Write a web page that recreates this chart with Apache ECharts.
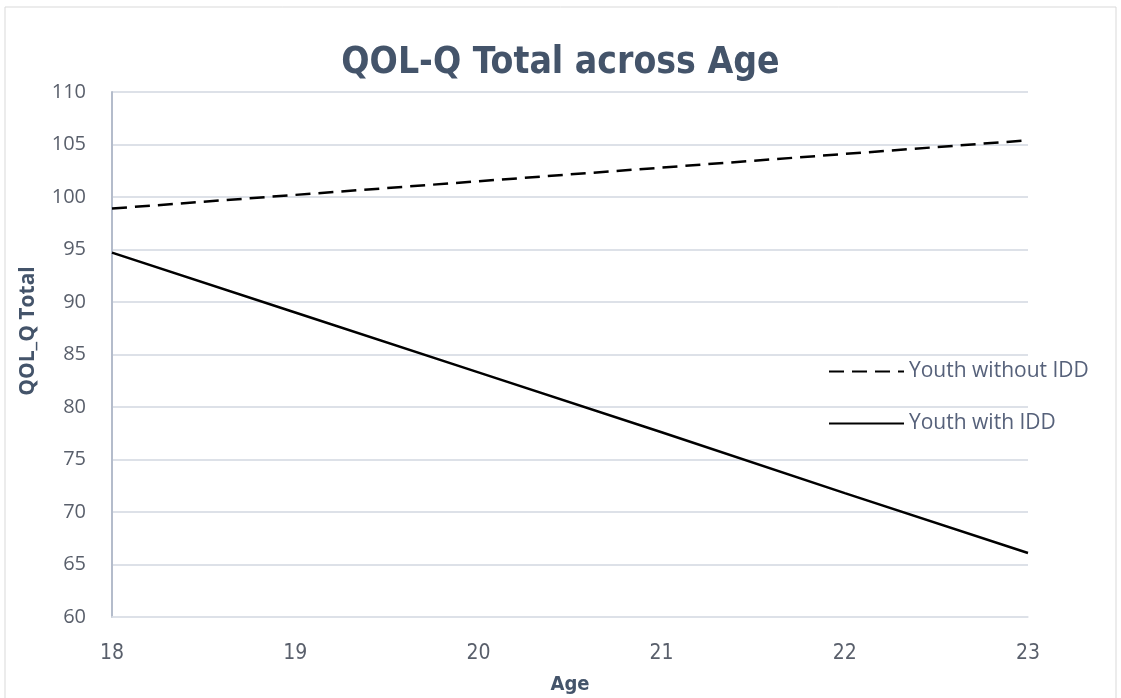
<!DOCTYPE html>
<html>
<head>
<meta charset="utf-8">
<script src="https://cdn.jsdelivr.net/npm/echarts@6/dist/echarts.min.js"></script>
<style>
  html, body { margin: 0; padding: 0; background: #fff; }
  #chart { width: 1121px; height: 698px; }
</style>
</head>
<body>
<div id="chart"></div>
<script>
// Age on the x axis, predicted QOL-Q totals per group
const ages = [18, 19, 20, 21, 22, 23];
const withoutIDD = [98.9, 100.2, 101.5, 102.8, 104.1, 105.4];
const withIDD = [94.7, 89.0, 83.3, 77.6, 71.8, 66.1];
const yTicks = { min: 60, max: 110, step: 5 };

const labelColor = '#595f6b';
const titleColor = '#44546a';
const gridColor = '#dde1e8';
const narrow = "'Liberation Sans Narrow', 'DejaVu Sans Condensed', sans-serif";
const regular = "'Open Sans', 'Noto Sans', sans-serif";

const chart = echarts.init(document.getElementById('chart'));
chart.setOption({
  animation: false,
  backgroundColor: '#fff',
  title: {
    text: 'QOL-Q Total across Age',
    left: 'center',
    top: 40,
    textStyle: { fontFamily: narrow, fontSize: 37, fontWeight: 'bold', color: titleColor }
  },
  graphic: [
    {
      type: 'rect',
      shape: { x: 5, y: 7, width: 1111, height: 695 },
      style: { fill: 'none', stroke: '#d9d9d9', lineWidth: 1 },
      silent: true
    },
    {
      // y axis title, placed a little above the plot's vertical centre
      type: 'text',
      x: 28,
      y: 331,
      rotation: Math.PI / 2,
      style: {
        text: 'QOL_Q Total',
        fontFamily: regular,
        fontSize: 21,
        fontWeight: 'bold',
        fill: titleColor,
        align: 'center',
        verticalAlign: 'middle'
      },
      silent: true
    }
  ],
  grid: { left: 112, right: 93, top: 92, bottom: 81, outerBoundsMode: 'none', containLabel: false },
  legend: {
    orient: 'vertical',
    left: 823,
    top: 356,
    itemWidth: 75,
    itemHeight: 14,
    itemGap: 31,
    itemStyle: { opacity: 0 },
    textStyle: { fontFamily: regular, fontSize: 21, color: '#56617a' },
    data: ['Youth without IDD', 'Youth with IDD']
  },
  xAxis: {
    type: 'value',
    min: ages[0],
    max: ages[ages.length - 1],
    interval: 1,
    name: 'Age',
    nameLocation: 'middle',
    nameGap: 58,
    nameTextStyle: { fontFamily: narrow, fontSize: 20, fontWeight: 'bold', color: titleColor },
    axisLine: { show: true, lineStyle: { color: gridColor, width: 1.5 } },
    axisTick: { show: false },
    splitLine: { show: false },
    axisLabel: { fontFamily: narrow, fontSize: 21, color: labelColor, margin: 26 }
  },
  yAxis: {
    type: 'value',
    min: yTicks.min,
    max: yTicks.max,
    interval: yTicks.step,
    axisLine: { show: true, lineStyle: { color: '#b4bccb', width: 2 } },
    axisTick: { show: false },
    splitLine: { lineStyle: { color: gridColor, width: 2 } },
    axisLabel: { fontFamily: regular, fontSize: 20, color: labelColor, margin: 26 }
  },
  series: [
    {
      name: 'Youth without IDD',
      type: 'line',
      data: ages.map((a, i) => [a, withoutIDD[i]]),
      symbol: 'none',
      lineStyle: { color: '#000', width: 2.5, type: [15, 8] },
      itemStyle: { color: '#000' }
    },
    {
      name: 'Youth with IDD',
      type: 'line',
      data: ages.map((a, i) => [a, withIDD[i]]),
      symbol: 'none',
      lineStyle: { color: '#000', width: 2.5 },
      itemStyle: { color: '#000' }
    }
  ]
});
</script>
</body>
</html>
